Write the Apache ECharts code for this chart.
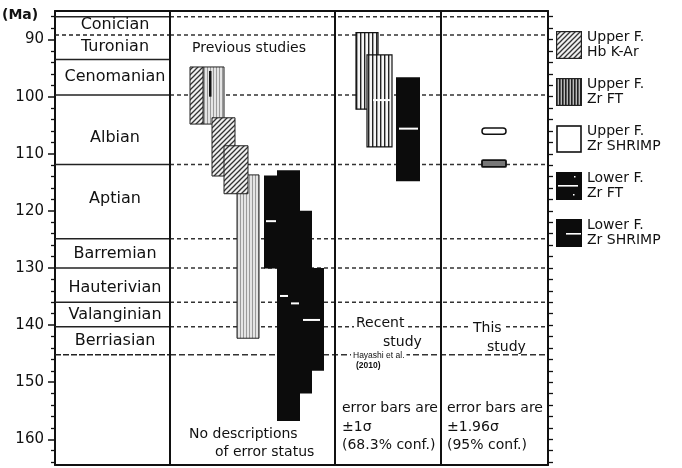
<!DOCTYPE html>
<html><head><meta charset="utf-8">
<script src="https://cdn.jsdelivr.net/npm/echarts@6/dist/echarts.min.js"></script>
<style>html,body{margin:0;padding:0;background:#fff}#c{width:682px;height:468px}</style>
</head><body><div id="c"></div>
<script>
// ---------------- DATA (ages in Ma) ----------------
const majorTicks = [90, 100, 110, 120, 130, 140, 150, 160];
const minorTicks = [86, 88, 92, 94, 96, 98, 102, 104, 106, 108, 112, 114, 116, 118, 122, 124, 126, 128,
  132, 134, 136, 138, 142, 144, 146, 148, 152, 154, 156, 158, 162, 164];
const rightTicks = [86, 88, 90, 92, 94, 96, 98, 100, 102, 104, 106, 108, 110, 112, 114, 116, 118, 120, 122, 124,
  126, 128, 130, 132, 134, 136, 138, 140, 142, 144, 146, 148, 150, 152, 154, 156, 158, 160, 162, 164];

const stageBounds = [86.0, 89.2, 93.5, 99.7, 111.9, 124.9, 130.0, 136.0, 140.3, 145.2];
const stageNames = ['Conician', 'Turonian', 'Cenomanian', 'Albian', 'Aptian', 'Barremian', 'Hauterivian', 'Valanginian', 'Berriasian'];
const stageLabelAges = [87.4, 91.3, 96.5, 107.2, 117.9, 127.5, 133.5, 138.2, 142.7];

// Previous studies
const prevHbKarLow = [94.8, 103.7, 108.6];
const prevHbKarHigh = [104.8, 113.9, 117.0];
const prevZrFtLow = [94.8, 113.7];
const prevZrFtHigh = [104.8, 142.3];
const prevZrFtCore = [95.5, 100.0];
const prevLowerFtLow = [113.8, 112.9, 120.0, 130.0];
const prevLowerFtHigh = [130.1, 156.8, 152.0, 148.0];
const prevLowerFtMean = [121.8, 134.9, 136.2, 139.1];

// Recent study (Hayashi et al. 2010)
const recentZrFtLow = [88.8, 92.7];
const recentZrFtHigh = [102.2, 108.8];
const recentZrFtMean = [100.6];
const recentLowerFtLow = [96.6];
const recentLowerFtHigh = [114.8];
const recentLowerFtMean = [105.6];

// This study
const thisUpperShrimpLow = [105.5];
const thisUpperShrimpHigh = [106.6];
const thisLowerShrimpLow = [111.1];
const thisLowerShrimpHigh = [112.3];

// ---------------- LAYOUT (horizontal slots, px from plot left) ----------------
const colEdges = [115, 280, 386];
const stageColEnd = 115, plotEnd = 493;
const prevHbKarX = [[135, 148], [157, 180], [169, 193]];
const prevZrFtX = [[148, 169], [182, 204]];
const prevZrFtCoreX = [154, 156.5];
const prevLowerFtX = [[209, 222], [222, 245], [245, 257], [257, 269]];
const prevMeanX = [[211, 221], [225, 233], [236, 244], [248, 265]];
const recentZrFtX = [[301, 323], [312, 337]];
const recentZrFtMeanX = [[318, 335]];
const recentLowerFtX = [[341, 365]];
const recentLowerMeanX = [[344, 363]];
const thisX = [427, 451];

// ---------------- PATTERNS ----------------
function mk(w, h, fn) { const c = document.createElement('canvas'); c.width = w; c.height = h; fn(c.getContext('2d')); return c; }
const hatchCv = mk(5, 5, g => {
  g.fillStyle = '#f0f0f0'; g.fillRect(0, 0, 5, 5);
  g.strokeStyle = '#333'; g.lineWidth = 1.3;
  g.beginPath(); g.moveTo(-1, 6); g.lineTo(6, -1); g.moveTo(-3, 3); g.lineTo(3, -3); g.moveTo(2, 8); g.lineTo(8, 2); g.stroke();
});
const stripeCv = mk(4, 4, g => { g.fillStyle = '#f6f6f6'; g.fillRect(0, 0, 4, 4); g.fillStyle = '#222'; g.fillRect(0, 0, 1.4, 4); });
const lightStripeCv = mk(3, 3, g => { g.fillStyle = '#e4e4e4'; g.fillRect(0, 0, 3, 3); g.fillStyle = '#999'; g.fillRect(0, 0, 1, 3); });
const hatchFill = { image: hatchCv, repeat: 'repeat' };
const stripeFill = { image: stripeCv, repeat: 'repeat' };
const lightStripeFill = { image: lightStripeCv, repeat: 'repeat' };

function iconURL(draw) {
  const c = mk(26, 28, draw); return 'image://' + c.toDataURL();
}
const icons = [
  iconURL(g => { g.fillStyle = g.createPattern(hatchCv, 'repeat'); g.fillRect(0, 0, 26, 28); g.strokeStyle = '#222'; g.lineWidth = 1.2; g.strokeRect(0.6, 0.6, 24.8, 26.8); }),
  iconURL(g => { g.fillStyle = '#bbb'; g.fillRect(0, 0, 26, 28); g.fillStyle = '#222'; for (let x = 0; x < 26; x += 3) g.fillRect(x, 0, 1.6, 28); g.strokeStyle = '#222'; g.lineWidth = 1.2; g.strokeRect(0.6, 0.6, 24.8, 26.8); }),
  iconURL(g => { g.fillStyle = '#fff'; g.fillRect(0, 0, 26, 28); g.strokeStyle = '#111'; g.lineWidth = 1.6; g.strokeRect(1, 1, 24, 26); }),
  iconURL(g => { g.fillStyle = '#0c0c0c'; g.fillRect(0, 0, 26, 28); g.fillStyle = '#fff'; g.fillRect(2, 13, 20, 1.6); g.fillRect(18, 4, 1.5, 1.5); g.fillRect(17, 22, 1.5, 1.5); }),
  iconURL(g => { g.fillStyle = '#0c0c0c'; g.fillRect(0, 0, 26, 28); g.fillStyle = '#fff'; g.fillRect(10, 14, 15, 1.6); })
];

// ---------------- RENDER HELPERS ----------------
const ymin = 85, ymax = 164.5;
function rectRender(style) {
  return function (params, api) {
    const p0 = api.coord([api.value(0), api.value(2)]);
    const p1 = api.coord([api.value(1), api.value(3)]);
    return { type: 'rect', shape: { x: p0[0], y: p0[1], width: p1[0] - p0[0], height: p1[1] - p0[1] }, style: style };
  };
}
function rows(xs, lows, highs) { return lows.map((lo, i) => [xs[i][0], xs[i][1], lo, highs[i]]); }
const FONT = 'DejaVu Sans';

function rectSeries(name, data, style, z) {
  return { type: 'custom', name: name, data: data, renderItem: rectRender(style), encode: { x: [0, 1], y: [2, 3] }, z: z || 2, silent: true };
}

const series = [
  // stage boundary lines
  {
    type: 'custom', silent: true, z: 1,
    data: stageBounds.map((b, i) => [b, i]),
    encode: { y: 0 },
    renderItem: function (params, api) {
      const age = api.value(0), i = api.value(1);
      const a = api.coord([0, age]), m = api.coord([stageColEnd, age]), e = api.coord([plotEnd, age]);
      const kids = [];
      const stageDashed = (i === 1 || i === 9);
      kids.push({ type: 'line', shape: { x1: a[0], y1: a[1], x2: m[0], y2: m[1] },
        style: { stroke: '#222', lineWidth: 1.5, lineDash: stageDashed ? (i === 9 ? [6, 2] : [4, 3]) : null } });
      if (i !== 2) {
        kids.push({ type: 'line', shape: { x1: m[0], y1: m[1], x2: e[0], y2: e[1] },
          style: { stroke: '#333', lineWidth: 1.5, lineDash: i === 9 ? [6, 3] : [4, 3] } });
      }
      return { type: 'group', children: kids };
    }
  },
  rectSeries('Upper F. Zr FT', rows(prevZrFtX, prevZrFtLow, prevZrFtHigh), { fill: lightStripeFill, stroke: '#222', lineWidth: 1 }),
  rectSeries('', [[prevZrFtCoreX[0], prevZrFtCoreX[1], prevZrFtCore[0], prevZrFtCore[1]]], { fill: '#111' }),
  rectSeries('Upper F. Hb K-Ar', rows(prevHbKarX, prevHbKarLow, prevHbKarHigh), { fill: hatchFill, stroke: '#222', lineWidth: 1 }),
  rectSeries('Lower F. Zr FT', rows(prevLowerFtX, prevLowerFtLow, prevLowerFtHigh), { fill: '#0c0c0c' }),
  rectSeries('Upper F. Zr FT', rows(recentZrFtX, recentZrFtLow, recentZrFtHigh), { fill: stripeFill, stroke: '#111', lineWidth: 1.2 }),
  rectSeries('Lower F. Zr FT', rows(recentLowerFtX, recentLowerFtLow, recentLowerFtHigh), { fill: '#0c0c0c' }),
  {
    type: 'custom', name: 'Upper F. Zr SHRIMP', silent: true, z: 3,
    data: [[thisX[0], thisX[1], thisUpperShrimpLow[0], thisUpperShrimpHigh[0]]], encode: { x: [0, 1], y: [2, 3] },
    renderItem: function (params, api) {
      const p0 = api.coord([api.value(0), api.value(2)]), p1 = api.coord([api.value(1), api.value(3)]);
      return { type: 'rect', shape: { x: p0[0], y: p0[1], width: p1[0] - p0[0], height: p1[1] - p0[1], r: 3 }, style: { fill: '#fff', stroke: '#111', lineWidth: 1.5 } };
    }
  },
  {
    type: 'custom', name: 'Lower F. Zr SHRIMP', silent: true, z: 3,
    data: [[thisX[0], thisX[1], thisLowerShrimpLow[0], thisLowerShrimpHigh[0]]], encode: { x: [0, 1], y: [2, 3] },
    renderItem: function (params, api) {
      const p0 = api.coord([api.value(0), api.value(2)]), p1 = api.coord([api.value(1), api.value(3)]);
      return { type: 'rect', shape: { x: p0[0], y: p0[1], width: p1[0] - p0[0], height: p1[1] - p0[1], r: 1 }, style: { fill: '#777', stroke: '#111', lineWidth: 1.8 } };
    }
  },
  // mean marks (white)
  {
    type: 'custom', silent: true, z: 4,
    data: prevLowerFtMean.map((m, i) => [prevMeanX[i][0], prevMeanX[i][1], m])
      .concat(recentZrFtMean.map((m, i) => [recentZrFtMeanX[i][0], recentZrFtMeanX[i][1], m]))
      .concat(recentLowerFtMean.map((m, i) => [recentLowerMeanX[i][0], recentLowerMeanX[i][1], m])),
    encode: { x: [0, 1], y: 2 },
    renderItem: function (params, api) {
      const p0 = api.coord([api.value(0), api.value(2)]), p1 = api.coord([api.value(1), api.value(2)]);
      return { type: 'rect', shape: { x: p0[0], y: p0[1] - 1, width: p1[0] - p0[0], height: 2 }, style: { fill: '#fff' } };
    }
  },
  // stage labels
  {
    type: 'custom', silent: true, z: 5,
    data: stageLabelAges.map((a, i) => [stageColEnd / 2 + 2.5, a, i]),
    encode: { x: 0, y: 1 },
    renderItem: function (params, api) {
      const p = api.coord([api.value(0), api.value(1)]);
      return { type: 'text', x: p[0], y: p[1], style: { text: stageNames[api.value(2)], fontFamily: FONT, fontSize: 16, fill: '#111', align: 'center', verticalAlign: 'middle' } };
    }
  },
  // column dividers
  {
    type: 'custom', silent: true, z: 5,
    data: colEdges.map(x => [x]), encode: { x: 0 },
    renderItem: function (params, api) {
      const a = api.coord([api.value(0), ymin]), b = api.coord([api.value(0), ymax]);
      return { type: 'line', shape: { x1: a[0], y1: a[1], x2: b[0], y2: b[1] }, style: { stroke: '#111', lineWidth: 2 } };
    }
  }
];

function txt(text, x, y, size, opt) {
  opt = opt || {};
  return { type: 'text', x: x, y: y, z: 100,
    style: Object.assign({ text: text, fontFamily: FONT, fontSize: size, fill: '#111', align: 'left', verticalAlign: 'middle' }, opt) };
}
const wbg = { backgroundColor: '#fff', padding: [0, 2] };

const chart = echarts.init(document.getElementById('c'), null, { renderer: 'canvas' });
chart.setOption({
  animation: false,
  backgroundColor: '#fff',
  grid: { left: 55, right: 134, top: 11, bottom: 3 },
  xAxis: [
    { type: 'value', min: 0, max: plotEnd, position: 'top', axisLine: { show: true, onZero: false, lineStyle: { color: '#111', width: 2 } }, axisTick: { show: false }, axisLabel: { show: false }, splitLine: { show: false } },
    { type: 'value', min: 0, max: plotEnd, position: 'bottom', axisLine: { show: true, onZero: false, lineStyle: { color: '#111', width: 2 } }, axisTick: { show: false }, axisLabel: { show: false }, splitLine: { show: false } }
  ],
  yAxis: [
    { type: 'value', inverse: true, min: ymin, max: ymax, position: 'left',
      axisLine: { show: true, onZero: false, lineStyle: { color: '#111', width: 2 } },
      axisTick: { show: true, length: 7, customValues: majorTicks, lineStyle: { color: '#111', width: 1.5 } },
      axisLabel: { show: true, customValues: majorTicks, margin: 11, fontFamily: FONT, fontSize: 15, color: '#111' },
      splitLine: { show: false } },
    { type: 'value', inverse: true, min: ymin, max: ymax, position: 'left',
      axisLine: { show: false, onZero: false },
      axisTick: { show: true, length: 4, customValues: minorTicks, lineStyle: { color: '#111', width: 1.3 } },
      axisLabel: { show: false }, splitLine: { show: false } },
    { type: 'value', inverse: true, min: ymin, max: ymax, position: 'right',
      axisLine: { show: true, onZero: false, lineStyle: { color: '#111', width: 2 } },
      axisTick: { show: true, length: 5, customValues: rightTicks, lineStyle: { color: '#111', width: 1.3 } },
      axisLabel: { show: false }, splitLine: { show: false } }
  ],
  legend: {
    orient: 'vertical', left: 556, top: 30, padding: 0, itemWidth: 26, itemHeight: 28, itemGap: 17, selectedMode: false,
    data: [
      { name: 'Upper F. Hb K-Ar', icon: icons[0] },
      { name: 'Upper F. Zr FT', icon: icons[1] },
      { name: 'Upper F. Zr SHRIMP', icon: icons[2] },
      { name: 'Lower F. Zr FT', icon: icons[3] },
      { name: 'Lower F. Zr SHRIMP', icon: icons[4] }
    ],
    formatter: n => n.replace('F. ', 'F.\n'),
    textStyle: { fontFamily: FONT, fontSize: 14, lineHeight: 15, color: '#111' }
  },
  graphic: [
    txt('(Ma)', 2, 15, 14, { fontWeight: 'bold' }),
    txt('Previous studies', 192, 48, 14),
    txt('No descriptions', 189, 434, 14),
    txt('of error status', 215, 452, 14),
    txt('Recent', 354, 323, 14, wbg),
    txt('study', 381, 342, 14, wbg),
    txt('Hayashi et al.', 351, 356, 8.5, Object.assign({ fontFamily: 'Liberation Sans' }, wbg)),
    txt('(2010)', 356, 366, 8.5, { fontFamily: 'Liberation Sans', fontWeight: 'bold' }),
    txt('error bars are', 342, 408, 14),
    txt('\u00b11\u03c3', 342, 427, 14),
    txt('(68.3% conf.)', 342, 445, 14),
    txt('This', 471, 328, 14, wbg),
    txt('study', 485, 347, 14, wbg),
    txt('error bars are', 447, 408, 14),
    txt('\u00b11.96\u03c3', 447, 427, 14),
    txt('(95% conf.)', 447, 445, 14)
  ],
  series: series
});
</script>
</body></html>
